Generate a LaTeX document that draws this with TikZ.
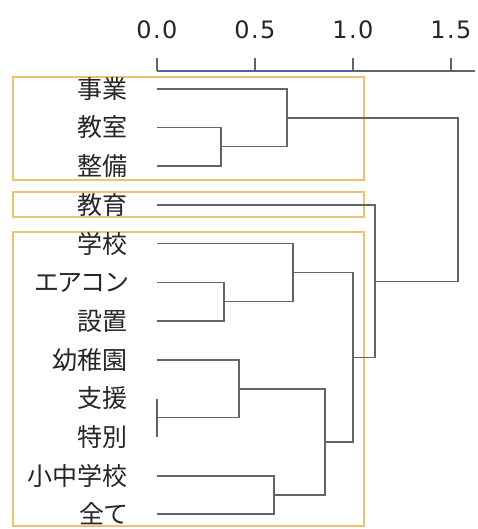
\documentclass[tikz,border=0pt]{standalone}
\usepackage{fontspec}
\newfontfamily\jp[RawFeature=+palt]{Noto Sans CJK JP}
\newfontfamily\numfont[LetterSpace=6]{DejaVu Sans}
\definecolor{dendgray}{RGB}{100,100,100}
\definecolor{axisblue}{RGB}{95,95,150}
\definecolor{boxorange}{RGB}{240,192,115}
\begin{document}
\begin{tikzpicture}[x=1pt,y=-1pt,
  dend/.style={draw=dendgray,line width=1.4pt},
  leaf/.style={anchor=east,inner sep=0pt,font=\jp\fontsize{25}{25}\selectfont,text=black!85},
  ticklab/.style={inner sep=0pt,font=\numfont\fontsize{24}{24}\selectfont,text=black!85},
  grp/.style={draw=boxorange,line width=1.6pt}]
\useasboundingbox (0,0) rectangle (478,529);
% group boxes
\draw[grp] (13,77) rectangle (364,180);
\draw[grp] (13,192) rectangle (364,217);
\draw[grp] (13,232) rectangle (364,526);
% axis
\draw[axisblue,line width=1.1pt] (157,71) -- (353,71);
\draw[dendgray,line width=1.1pt] (353,71) -- (475,71);
\foreach \x/\t/\n in {157/0.0/t0,255/0.5/t1,353/1.0/t2,451/1.5/t3}{
  \draw[dendgray,line width=1.1pt] (\x,58) -- (\x,71);
  \node[ticklab] (\n) at (\x,30) {\t};
}
% leaves
\foreach \i/\y/\t in {1/89/事業,2/127.5/教室,3/166/整備,4/205/教育,5/243.5/学校,6/282.5/エアコン,7/321/設置,8/360/幼稚園,9/398.5/支援,10/437/特別,11/476/小中学校,12/514/全て}{
  \node[leaf] (l\i) at (128,\y) {\t};
  \coordinate (p\i) at (157,\y);
}
% merge points
\coordinate (c23) at (221,146.75);
\coordinate (c123) at (287,118);
\coordinate (c67) at (224,301.75);
\coordinate (c567) at (293,272.6);
\coordinate (c910) at (157,417.75);
\coordinate (c8910) at (239,388.9);
\coordinate (c1112) at (274,495);
\coordinate (c812) at (325,442);
\coordinate (c512) at (353,357.3);
\coordinate (c412) at (375,281.2);
\coordinate (root) at (458,199.6);
% dendrogram
\draw[dend] (p2) -| (c23) |- (p3);
\draw[dend] (p1) -| (c123) |- (c23);
\draw[dend] (p6) -| (c67) |- (p7);
\draw[dend] (p5) -| (c567) |- (c67);
\draw[dend] (p9) -- (p10);
\draw[dend] (p8) -| (c8910) |- (c910);
\draw[dend] (p11) -| (c1112) |- (p12);
\draw[dend] (c8910) -| (c812) |- (c1112);
\draw[dend] (c567) -| (c512) |- (c812);
\draw[dend] (p4) -| (c412) |- (c512);
\draw[dend] (c123) -| (root) |- (c412);
\end{tikzpicture}
\end{document}
